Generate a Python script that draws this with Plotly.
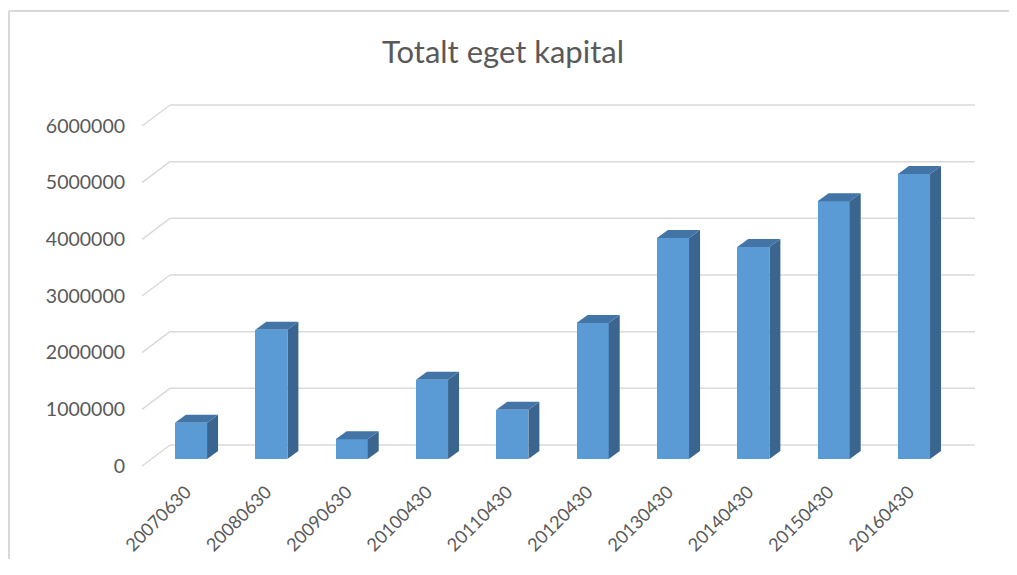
import plotly.graph_objects as go

# ---- data ----
categories = ["20070630", "20080630", "20090630", "20100430", "20110430",
              "20120430", "20130430", "20140430", "20150430", "20160430"]
values = [640000, 2280000, 350000, 1400000, 870000,
          2400000, 3900000, 3740000, 4550000, 5030000]
tick_values = [0, 1000000, 2000000, 3000000, 4000000, 5000000, 6000000]
tick_labels = ["0", "1000000", "2000000", "3000000", "4000000", "5000000", "6000000"]
title_text = "Totalt eget kapital"

# ---- geometry (pixels, in screenshot coordinates) ----
SW, SH = 1017, 575                 # screenshot size
OFF = 8                            # page body margin
FW, FH = SW - 2 * OFF, SH - 2 * OFF - 8  # figure size so page does not scroll
L, R, T, B = 130, 985, 100, 470    # plot area in screenshot coords
px_per_val = 56.67 / 1e6
px_per_cat = 80.33
x0_px = 191
bar_zero_px = 459
front_off = -7 / px_per_val
back_off = 14 / px_per_val
front_left_px, back_left_px, back_right_px = 142, 170, 975
bar_w = 0.40
dx = 11 / px_per_cat
dy = 8 / px_per_val

y_low = -(B - bar_zero_px) / px_per_val
y_high = y_low + (B - T) / px_per_val
x_low = (L - x0_px) / px_per_cat
x_high = (R - x0_px) / px_per_cat

def xd(px):
    return (px - x0_px) / px_per_cat

idx = list(range(len(categories)))

fig = go.Figure()

fig.add_trace(go.Bar(x=idx, y=values, width=bar_w,
                     marker=dict(color="#5B9BD5", line=dict(width=0)),
                     hoverinfo="skip", showlegend=False))

sx, sy = [], []
tx, ty = [], []
for i, v in zip(idx, values):
    xr = i + bar_w / 2
    xl = i - bar_w / 2
    sx += [xr, xr, xr + dx, xr + dx, xr, None]
    sy += [0, v, v + dy, dy, 0, None]
    tx += [xl, xr, xr + dx, xl + dx, xl, None]
    ty += [v, v, v + dy, v + dy, v, None]
fig.add_trace(go.Scatter(x=sx, y=sy, mode="lines", fill="toself",
                         fillcolor="#3A658F", line=dict(width=0, color="#3A658F"),
                         hoverinfo="skip", showlegend=False))
fig.add_trace(go.Scatter(x=tx, y=ty, mode="lines", fill="toself",
                         fillcolor="#4275A6", line=dict(width=0, color="#4275A6"),
                         hoverinfo="skip", showlegend=False))

shapes = []
for v in tick_values:
    shapes.append(dict(type="line", layer="below", xref="x", yref="y",
                       x0=xd(front_left_px), y0=v + front_off,
                       x1=xd(back_left_px), y1=v + back_off,
                       line=dict(color="#D9D9D9", width=1.5)))
    shapes.append(dict(type="line", layer="below", xref="x", yref="y",
                       x0=xd(back_left_px), y0=v + back_off,
                       x1=xd(back_right_px), y1=v + back_off,
                       line=dict(color="#D9D9D9", width=1.5)))

def xp(px):
    return (px - L) / (R - L)

def yp(py):
    return (B - py) / (B - T)

shapes.append(dict(type="line", xref="paper", yref="paper",
                   x0=xp(9), y0=yp(11), x1=xp(9), y1=yp(SH + 20),
                   line=dict(color="#D9D9D9", width=2)))
shapes.append(dict(type="line", xref="paper", yref="paper",
                   x0=xp(9), y0=yp(11), x1=xp(SW + 20), y1=yp(11),
                   line=dict(color="#D9D9D9", width=2)))

label_shift = -5 / px_per_cat

fig.update_layout(
    width=FW, height=FH,
    margin=dict(l=L - OFF, r=FW - (R - OFF), t=T - OFF, b=FH - (B - OFF),
                autoexpand=False),
    paper_bgcolor="white", plot_bgcolor="white",
    shapes=shapes,
    title=dict(text=title_text, x=(503 - OFF) / FW, xref="container",
               xanchor="center", y=1 - (52 - OFF) / FH, yanchor="middle",
               font=dict(family="Lato", size=31, color="#595959")),
    xaxis=dict(range=[x_low, x_high], tickmode="array",
               tickvals=[i + label_shift for i in idx],
               ticktext=categories, tickangle=-45, showgrid=False,
               zeroline=False, showline=False, ticks="", ticklabelstandoff=7,
               tickfont=dict(family="Lato", size=18, color="#595959")),
    yaxis=dict(range=[y_low, y_high], tickmode="array",
               tickvals=[v + front_off for v in tick_values],
               ticktext=tick_labels, showgrid=False, zeroline=False,
               showline=False, ticks="", ticklabelstandoff=4,
               tickfont=dict(family="Lato", size=19.5, color="#595959")),
    bargap=0,
)

fig.write_html("out.html")
